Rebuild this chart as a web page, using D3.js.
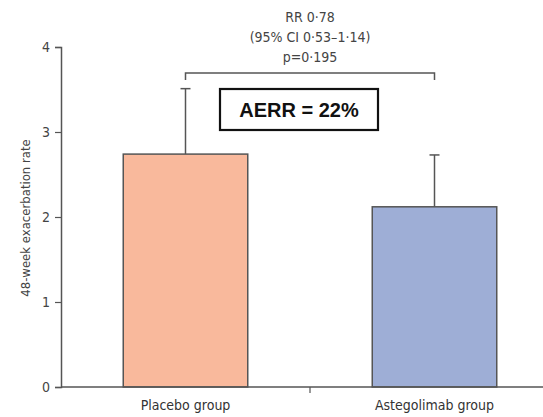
<!DOCTYPE html>
<html><head><meta charset="utf-8">
<script src="https://cdn.jsdelivr.net/npm/d3@7"></script>
<style>body{margin:0;background:#fff}svg{display:block}text{font-family:"DejaVu Sans Condensed","DejaVu Sans",sans-serif}</style>
</head><body><div id="c"></div>
<script>
const categories = ["Placebo group", "Astegolimab group"];
const rates = [2.74, 2.12];
const upperErr = [3.51, 2.73];
const colors = ["#F9B99C", "#9EAED6"];
const yTicks = [0, 1, 2, 3, 4];
const annotation = ["RR 0·78", "(95% CI 0·53–1·14)", "p=0·195"];
const aerrLabel = "AERR = 22%";
const yLabel = "48-week exacerbation rate";

const W = 543, H = 417;
const svg = d3.select("#c").append("svg").attr("width", W).attr("height", H);
const x = d3.scaleBand().domain(categories).range([61, 559]).paddingInner(0.5).paddingOuter(0.25);
const y = d3.scaleLinear().domain([0, 4]).range([387, 47]);
const axisCol = "#555";
const font = "'DejaVu Sans Condensed','DejaVu Sans',sans-serif";

// y axis
const ya = svg.append("g").attr("transform", "translate(61,0)")
  .call(d3.axisLeft(y).tickValues(yTicks).tickSize(6).tickPadding(5).tickFormat(d3.format("d")));
ya.select(".domain").attr("stroke", axisCol).attr("stroke-width", 1.5);
ya.selectAll(".tick line").attr("stroke", axisCol).attr("stroke-width", 1.2);
ya.selectAll(".tick text").attr("fill", "#444").style("font-size", "14px").style("font-family", font);

svg.append("text").attr("transform", `translate(25,${y(2) + 1}) rotate(-90)`)
  .attr("text-anchor", "middle").attr("dy", "0.35em").attr("fill", "#444")
  .style("font-size", "13px").text(yLabel);

// error bars
categories.forEach((c, i) => {
  const cx = x(c) + x.bandwidth() / 2;
  svg.append("line").attr("x1", cx).attr("x2", cx).attr("y1", y(rates[i])).attr("y2", y(upperErr[i]))
    .attr("stroke", "#555").attr("stroke-width", 1.5);
  svg.append("line").attr("x1", cx - 5).attr("x2", cx + 5).attr("y1", y(upperErr[i])).attr("y2", y(upperErr[i]))
    .attr("stroke", "#555").attr("stroke-width", 1.5);
});

// bars
svg.selectAll("rect.bar").data(categories).enter().append("rect").attr("class", "bar")
  .attr("x", d => x(d)).attr("width", x.bandwidth())
  .attr("y", (d, i) => y(rates[i])).attr("height", (d, i) => y(0) - y(rates[i]))
  .attr("fill", (d, i) => colors[i]).attr("stroke", "#555").attr("stroke-width", 1.5);

// x axis
svg.append("line").attr("x1", 61).attr("x2", W).attr("y1", y(0)).attr("y2", y(0))
  .attr("stroke", axisCol).attr("stroke-width", 1.5);
const mid = (x(categories[0]) + x.bandwidth() + x(categories[1])) / 2;
svg.append("line").attr("x1", mid).attr("x2", mid).attr("y1", y(0)).attr("y2", y(0) + 6)
  .attr("stroke", axisCol).attr("stroke-width", 1.2);
svg.selectAll("text.xl").data(categories).enter().append("text").attr("class", "xl")
  .attr("x", d => x(d) + x.bandwidth() / 2).attr("y", 410).attr("text-anchor", "middle")
  .attr("fill", "#333").style("font-size", "14px").text(d => d);

// bracket
const c0 = x(categories[0]) + x.bandwidth() / 2, c1 = x(categories[1]) + x.bandwidth() / 2;
svg.append("path").attr("d", `M${c0},80V73H${c1}V80`).attr("fill", "none")
  .attr("stroke", "#555").attr("stroke-width", 1.5);
const ay = [22, 42, 62];
svg.selectAll("text.an").data(annotation).enter().append("text").attr("class", "an")
  .attr("x", mid).attr("y", (d, i) => ay[i]).attr("text-anchor", "middle")
  .attr("fill", "#444").style("font-size", "14px").text(d => d);

// AERR box
svg.append("rect").attr("x", 220).attr("y", 89).attr("width", 158).attr("height", 41)
  .attr("fill", "#fff").attr("stroke", "#111").attr("stroke-width", 2.2);
svg.append("text").attr("x", 299).attr("y", 117).attr("text-anchor", "middle")
  .attr("fill", "#111").style("font-size", "20px").style("font-weight", "bold")
  .style("font-family", "'Liberation Sans',Arial,sans-serif").text(aerrLabel);
</script></body></html>
